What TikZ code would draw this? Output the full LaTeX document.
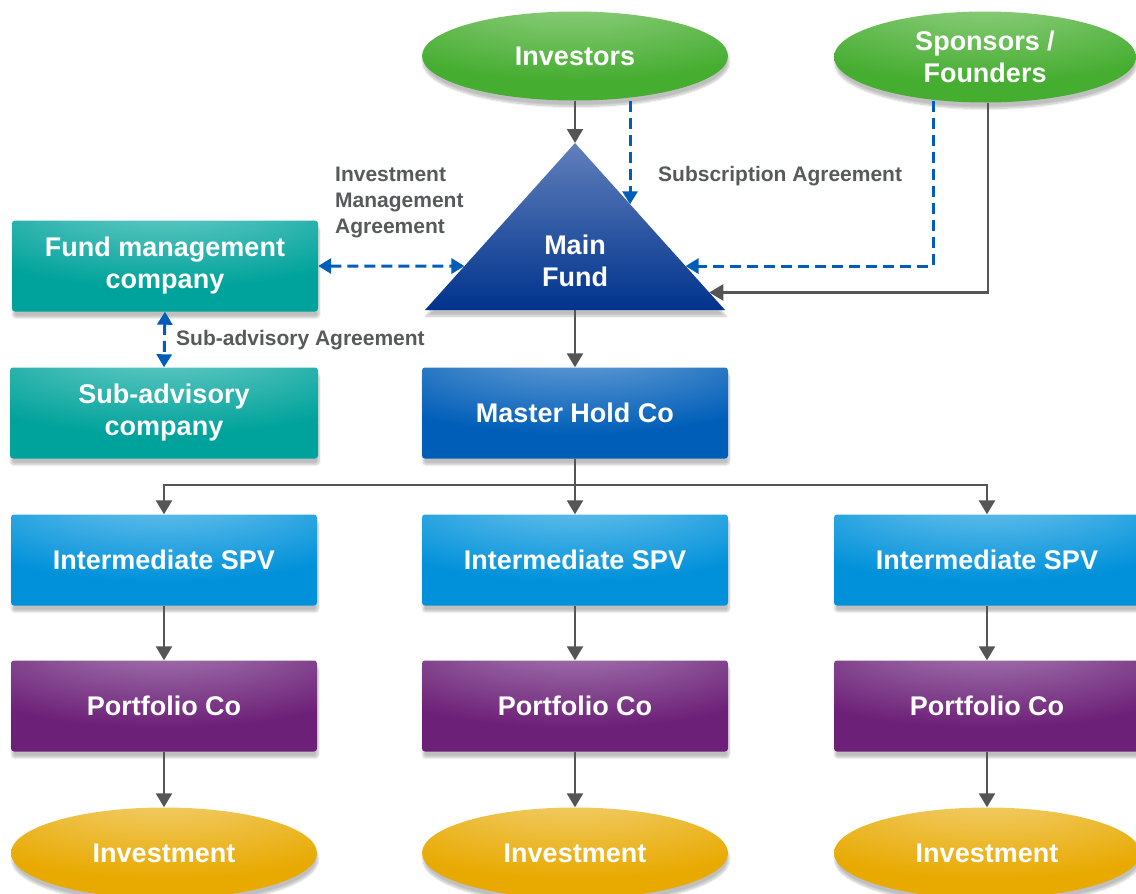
\documentclass[tikz,border=0pt]{standalone}
\usepackage{fontspec}
\setmainfont{Liberation Sans}
\usetikzlibrary{shapes.geometric,arrows.meta,calc,shadows.blur}

\definecolor{kgreen}{HTML}{45AD30}
\definecolor{kgreenlt}{HTML}{9AD38A}
\definecolor{kteal}{HTML}{00A39B}
\definecolor{ktealt}{HTML}{7AD1CC}
\definecolor{kblue}{HTML}{005EB8}
\definecolor{kbluelt}{HTML}{7AAADB}
\definecolor{ksky}{HTML}{0091DA}
\definecolor{kskylt}{HTML}{7ECAEE}
\definecolor{kplum}{HTML}{6D2077}
\definecolor{kplumlt}{HTML}{AD88BA}
\definecolor{kgold}{HTML}{E8A900}
\definecolor{kgoldlt}{HTML}{F3D37C}
\definecolor{knavy}{HTML}{00338D}
\definecolor{knavylt}{HTML}{617FBB}
\definecolor{kgrey}{HTML}{58595B}
\definecolor{kline}{HTML}{555555}

% glow at the top middle of each shape
\pgfdeclareradialshading{greenglow}{\pgfpoint{0bp}{38bp}}{color(0bp)=(kgreenlt); color(38bp)=(kgreen); color(100bp)=(kgreen)}
\pgfdeclareradialshading{tealglow}{\pgfpoint{0bp}{42bp}}{color(0bp)=(ktealt); color(38bp)=(kteal); color(100bp)=(kteal)}
\pgfdeclareradialshading{blueglow}{\pgfpoint{0bp}{42bp}}{color(0bp)=(kbluelt); color(38bp)=(kblue); color(100bp)=(kblue)}
\pgfdeclareradialshading{skyglow}{\pgfpoint{0bp}{42bp}}{color(0bp)=(kskylt); color(38bp)=(ksky); color(100bp)=(ksky)}
\pgfdeclareradialshading{plumglow}{\pgfpoint{0bp}{42bp}}{color(0bp)=(kplumlt); color(38bp)=(kplum); color(100bp)=(kplum)}
\pgfdeclareradialshading{goldglow}{\pgfpoint{0bp}{38bp}}{color(0bp)=(kgoldlt); color(38bp)=(kgold); color(100bp)=(kgold)}

\newcommand{\boxfont}{\bfseries\fontsize{27}{32}\selectfont}
\newcommand{\notefont}{\bfseries\fontsize{21}{26}\selectfont}

\tikzset{
  softshadow/.style={blur shadow={shadow xshift=1pt, shadow yshift=-6pt, shadow blur steps=8, shadow opacity=25}},
  box/.style={rectangle, rounded corners=3pt, minimum width=306pt, minimum height=91pt,
    inner sep=0pt, shade, shading=#1, softshadow, text=white, font=\boxfont, align=center},
  oval/.style={ellipse, minimum width=306pt, minimum height=89pt,
    inner sep=0pt, shade, shading=#1, softshadow, text=white, font=\boxfont, align=center},
  note/.style={text=kgrey, font=\notefont, align=left, inner sep=0pt},
  arr/.style={draw=kline, line width=2.4pt, -{Triangle[width=16pt,length=14pt]}},
  plain/.style={draw=kline, line width=2.4pt},
  agree/.style={draw=kblue, line width=3pt, dash pattern=on 11pt off 6pt, -{Triangle[width=15pt,length=13pt]}},
  twoway/.style={agree, {Triangle[width=15pt,length=13pt]}-{Triangle[width=15pt,length=13pt]}}
}

\begin{document}
\begin{tikzpicture}[x=1pt,y=-1pt]
  \useasboundingbox (0,0) rectangle (1136,894);

  % top row
  \node[oval=greenglow] (investors) at (575,56) {Investors};
  \node[oval=greenglow, minimum width=302pt, minimum height=91pt] (sponsors) at (985,57) {Sponsors /\\Founders};

  % main fund triangle
  \coordinate (tA) at (575,143);
  \coordinate (tL) at (425,310);
  \coordinate (tR) at (725,310);
  \coordinate (tB) at ($(tL)!0.5!(tR)$);
  \path[top color=knavylt, middle color=knavy, bottom color=knavy, softshadow] (tA) -- (tR) -- (tL) -- cycle;
  \node[text=white, font=\boxfont, align=center] (mainfund) at (575,261) {Main\\Fund};
  \coordinate (subtip) at ($(tA)!0.367!(tR)$);
  \coordinate (sponstip) at ($(tA)!0.737!(tR)$);
  \coordinate (fndtip) at ($(tA)!0.895!(tR)$);
  \coordinate (mgmtip) at ($(tA)!0.737!(tL)$);

  % left side
  \node[box=tealglow] (fundmgmt) at (165,266) {Fund management\\company};
  \node[box=tealglow, minimum width=308pt] (subadv) at (164,413) {Sub-advisory\\company};
  \node[box=blueglow] (masterhold) at (575,413) {Master Hold Co};

  % columns
  \foreach \c/\x in {1/164,2/575,3/987} {
    \node[box=skyglow] (spv\c) at (\x,560) {Intermediate SPV};
    \node[box=plumglow] (port\c) at (\x,706) {Portfolio Co};
    \node[oval=goldglow, minimum height=91pt] (invest\c) at (\x,853) {Investment};
    \draw[arr] (spv\c) -- (port\c);
    \draw[arr] (port\c) -- (invest\c);
    \draw[arr] (masterhold.south) -- ++(0,26) -| (spv\c.north);
  }

  % flows into the fund
  \draw[arr] (investors) -- (tA);
  \draw[arr] (tB) -- (masterhold);
  \draw[plain, -{Triangle[width=16pt,length=14pt]}] ($(sponsors.south)+(3,0)$) |- (fndtip);

  % agreements
  \draw[agree] (subtip |- investors.south) -- (subtip);
  \draw[agree] ($(sponsors.south)+(-52,-2)$) |- (sponstip);
  \draw[twoway] (fundmgmt.east) -- (mgmtip);
  \draw[twoway] (fundmgmt.south) -- (subadv.north);

  \node[note, anchor=north west] (imalabel) at (335,167) {Investment\\Management\\Agreement};
  \node[note, anchor=west] (sublabel) at (658,176) {Subscription Agreement};
  \node[note, anchor=west] (sadvlabel) at (176,340) {Sub-advisory Agreement};
\end{tikzpicture}
\end{document}
